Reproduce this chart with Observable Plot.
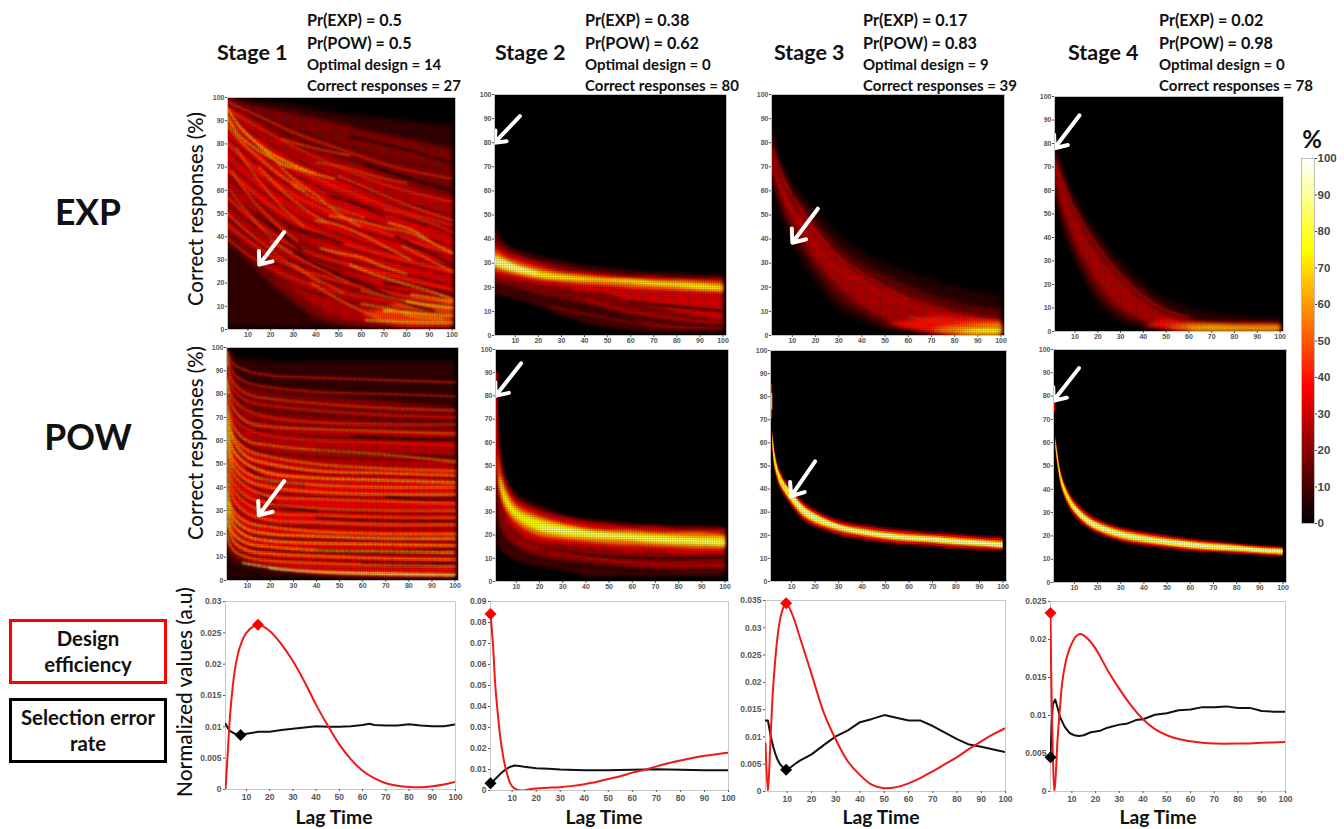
<!DOCTYPE html>
<html><head><meta charset="utf-8">
<script src="https://cdn.jsdelivr.net/npm/d3@7"></script>
<script src="https://cdn.jsdelivr.net/npm/@observablehq/plot@0.6"></script>
<style>
html,body{margin:0;padding:0;background:#fff;width:1344px;height:829px;overflow:hidden}
#page{position:relative;width:1344px;height:829px;font-family:Lato,sans-serif;color:#111}
#page>div{position:absolute}
.t{white-space:nowrap;font-weight:700}
.box{box-sizing:border-box;background:#fff}
</style></head><body><div id="page"></div>
<script>
// ---------- tick values ----------
const heatXTicks=[10,20,30,40,50,60,70,80,90,100];
const heatYTicks=[0,10,20,30,40,50,60,70,80,90,100];
const barTicks=heatYTicks;
const lineXTicks=heatXTicks;
const hotDomain=[0,37.5,75,100];
const hotRange=["#000000","#ff0000","#ffff00","#ffffff"];

// ---------- iso-level bands: [level, lower edge, upper edge] ----------
const lagsExp=[1,5,10,20,30,40,50,60,70,80,90,100];
const lagsPow=[1,2,3,5,10,20,30,40,50,60,70,80,90,100];
const lagsThin=[2,3,4,5,7,10,15,20,30,40,50,60,70,80,90,100];
const lagsS1Exp=[1,10,20,30,40,50,60,70,80,90,100];
const lagsS1Pow=[1,3,5,10,20,40,60,80,100];
const lagsFineExp=[1,15,30,50,75,100];
const lagsFinePow=[1,4,10,20,40,70,100];

const s1ExpBands=[
[8,[1,1,1,1,.8,.5,.5,.5,.5,.5,.5],[100,99,98,97,95,93,92,91,90,89,88]],
[20,[38,30,20,12,5,2,1,.8,.5,.5,.5],[100,97,95,93,91,89,86,84,82,80,78]],
[28,[42,35,26,17,10,5,3,2,1,1,1],[100,93,86,80,76,73,70,66,62,59,56]],
[34,[70,60,52,46,38,30,22,16,10,7,5],[98,88,80,74,70,66,60,54,48,44,40]],
[46,[null,null,null,null,null,null,7,3,1.5,1.5,1.5],[null,null,null,null,null,null,7,9,13,13,13]]
];
const s2ExpBands=[
[10,[17,16,15,12,8,5,3,2,1,1,1,1],[46,39,36,33,31,29,28,27,26,26,25,25]],
[20,[22,21,20,17,15,13,10,7,4,3,3,3],[42,37,34,31,29,27,26,25,25,24,24,24]],
[32,[25,24,23,21,20,18,17,14,12,10,8,6],[38,35,33,30,27,26,25,24,24,23,23,23]],
[52,[27,26,25,23,22,21,20.5,19.5,19,18.5,18,17.5],[36,33,31,28,26,25,24,23.5,23,23,22.5,22]],
[74,[29,27.5,26,24,23,22.5,22.2,21.5,20.5,20,19,18.5],[33.5,31.5,29,26.5,25,24,23.3,23,22.3,21.8,21.3,20.5]],
[90,[29,28,27,25,null,null,null,null,null,null,null,null],[32,31,29,26,null,null,null,null,null,null,null,null]]
];
const s3ExpBands=[
[6,[65,50,38,22,11,6,2,1,0,0,0,0],[90,73,64,52,42,35,30,26,23,20,18,16]],
[15,[68,54,43,27,15,9,4,2,1,0,0,0],[85,70,60,48,37,30,25,21,17,14,12,11]],
[26,[72,58,47,31,20,12,7,3,2,1,.5,.5],[78,66,55,43,32,25,20,16,13,10,8,7]],
[40,[null,null,null,null,null,null,5,3,1,.5,.5,.5],[null,null,null,null,null,null,5,6,8,8,7,6]],
[58,[null,null,null,null,null,null,null,null,2,.5,.5,.5],[null,null,null,null,null,null,null,null,2,4,5,5]],
[76,[null,null,null,null,null,null,null,null,null,1,.5,.5],[null,null,null,null,null,null,null,null,null,1,3,3.5]]
];
const s4ExpBands=[
[6,[60,43,30,12,4,1.5,1,1,1,1,1,1],[79,68,58,42,30,21,14,10,8,7,6,6]],
[16,[62,47,34,16,7,3,1,.5,.5,.5,.5,.5],[78,66,54,38,26,17,10,6,4,4,3.5,3.5]],
[26,[66,52,39,21,10,5,2,1,1,1,1,1],[76,62,50,33,22,13,7,4,3,3,3,3]],
[40,[null,null,null,null,null,2,1,.5,.5,.5,.5,.5],[null,null,null,null,null,2,5,3.5,3,3,3,3]],
[58,[null,null,null,null,null,null,1.5,.5,.5,.5,.5,.5],[null,null,null,null,null,null,1.5,3,3,2.5,2.5,2.5]],
[76,[null,null,null,null,null,null,null,.5,.5,.5,.5,.5],[null,null,null,null,null,null,null,1.2,1.7,1.6,1.5,1.5]]
];
const s1PowBands=[
[8,[1,1,1,1,1,1,1,1,1],[100,98,96,95,94,94,94,94,94]],
[20,[14,11,9,7,5,2.5,1.5,1,1],[99,92,88,84,82,80,78,76,74]],
[28,[18,14,12,9,6,3,2,1.5,1.5],[96,84,78,72,70,68,67,66,65]],
[35,[22,16,14,10,7,3.5,3,2.5,2.5],[88,70,62,56,52,49,48,48,48]]
];
const s2PowBands=[
[10,[30,20,14,12,9,6,5,2,2,2,2,2,2,2],[92,70,60,48,38,33,29,27,26,25,24,24,24,23]],
[22,[50,35,25,20,15,11,9,8,7,6,5,4,4,4],[86,66,56,45,36,31,28,26,25,24,24,23,23,23]],
[34,[62,48,38,30,22,17,16,15,14,13,13,12,12,12],[80,62,52,43,35,30,27,25,24,23,23,22,22,22]],
[55,[null,50,40,32,25,19.5,18,17,16,15.5,15,14.5,14,14],[null,56,48,41,33,28,25,23,22,22,21,21,21,20]],
[75,[null,null,42,34,27,21.5,19.5,18.5,18,17.5,16.5,16,15.5,15],[null,null,46,39,31,26.5,24,22,21,20.5,20,19.5,19,19]],
[92,[null,null,null,null,null,23,21,20,19,18.5,17.5,17,16.5,16],[null,null,null,null,null,24,22.5,21,20,19.5,18.5,18,17.5,17]]
];
const s3PowBands=[
[12,[56,47,43,40,36.5,32,26,23,19.5,17.5,16,15,14.5,13.5,13,12.5],[67,57,52,49,45,41,35,31.5,27,25,23.5,22.5,21.5,21,20,19.5]],
[35,[57,48,44,41,37.5,33,27,24,20.5,18.5,17,16,15.5,14.5,14,13.5],[66,56,51,48,44,40,34,30.5,26,24,22.5,21.5,20.5,20,19,18.5]],
[55,[58,49,45,42,38.5,34,28,25,21.5,19.5,18,17,16.5,15.5,14.8,14],[65,55,50,47,43,39,33,29.5,25,23,21.5,20.5,19.8,19,18.2,17.5]],
[78,[59,50,46,43,39,34.8,28.8,25.8,22.3,20.2,18.6,17.6,17,16,15.4,14.6],[64,54.5,49.5,46.5,42.5,38.5,32.5,29,24.5,22.3,20.8,19.8,19.2,18.3,17.5,16.8]],
[94,[null,null,null,null,null,36,30,26.8,23,20.8,19.2,18.2,17.6,16.8,16,15.2],[null,null,null,null,null,37.5,31.5,28,24,21.6,20.2,19.2,18.6,17.7,17,16.2]]
];
const s4PowBands=[
[12,[56,48,42,38,33,28,23.5,20.5,17,15.2,14,13,12.3,11.8,11.2,10.6],[64,56,50,46,41,36,31,27.5,24,22,20.5,19,18,17,16,15.5]],
[35,[57,49,43,39,34,29,24.3,21.3,17.8,16,14.8,13.7,13,12.4,11.8,11.1],[63,55,49,45,40,35,30,26.7,23.2,21.2,19.7,18.3,17.3,16.4,15.6,15]],
[55,[58,50,44,40,35,30,25,22,18.5,16.7,15.4,14.3,13.5,13,12.3,11.6],[62,54,48,44,39,34,29,26,22.5,20.5,19,17.7,16.7,16,15,14.5]],
[78,[58.5,50.5,44.5,40.5,35.5,30.6,25.6,22.6,19.2,17.3,16,14.8,14,13.5,12.8,12.2],[61.5,53.5,47.5,43.5,38.5,33.3,28.3,25.3,21.8,19.8,18.3,17.2,16.2,15.5,14.6,14]],
[94,[null,null,null,null,null,31.4,26.4,23.4,20,18.2,16.8,15.5,14.7,14,13.3,12.7],[null,null,null,null,null,32.6,27.6,24.6,21.2,19.2,17.8,16.7,15.7,15,14.2,13.6]]
];

// ---------- fine texture lines: [level, y at each lag of the matching lag list] ----------
const s1ExpFine=[
[13,99,93,87,80,73,68],[13,97,90,83,75,67,61],[13,93,83,74,65,56,49],[13,88,77,67,58,49,42],[13,83,71,61,52,43,36],
[13,78,65,55,46,38,31],[13,72,60,50,41,33,27],[13,66,54,44,36,29,23],[13,60,48,39,31,25,19],[13,54,43,34,27,21,16],
[13,48,37,29,23,17,13],[13,42,32,25,19,14,10],[13,36,26,19,13,9,6],
[46,98,92,85,78,70,65],[46,95,87,79,70,61,55],[46,90,80,70,61,52,45],[46,80,68,58,49,40,33],[46,69,57,47,38,31,25],
[46,57,45,36,29,23,17],[46,45,35,27,21,15,11],[44,39,29,22,16,12,8]
];
const s1PowFine=[
[11,96,87,83,81,79,78,77],[11,90,80,75,73,71,69,68],[11,86,75,70,68,66,65,65],[11,83,72,66,64,62,61,61],
[11,76,64,58,55,53,52,52],[11,70,58,51,48,46,45,44],[11,60,47,41,38,36,35,35],[11,52,41,34,31,30,29,28.5],
[11,44,32,27,24,23,22,22],[11,36,25,20,18.5,17.5,17,16.5],[11,28,18,14.5,13,12,11,10.5],[11,22,14,11,9.5,8.5,8,7.5]
];

// ---------- streaks: [level, x, y, x, y, ...] ----------
const s1ExpStreaks=[
[72,1,95,6,88,12,82,20,76,30,71,40,67],[70,1,92,5,85,12,79,20,74,28,70],[60,1,88,8,80,15,74,25,66,35,60],
[62,14,80,24,72,36,68,48,65],[58,22,73,30,65,40,58,50,50,60,44],[55,15,70,25,60,35,52,45,46],
[52,5,78,15,64,25,53,35,44],[50,3,68,12,56,22,46,32,38],[48,2,60,12,48,22,38,30,33],
[48,1,50,10,42,22,33,32,26,42,20],[60,40,47,50,45,60,41,70,36,82,30],[65,42,35,50,33,60,31,70,27,80,24],
[65,55,28,65,24,78,20,92,16,100,13],[60,46,49,58,47,70,44,80,42,90,38],[65,72,46,82,43,92,37,100,33],
[55,30,62,40,56,50,52,62,48],[50,50,66,60,62,72,57,85,52,100,47],[48,40,72,52,70,66,66,80,63],
[46,70,52,82,49,100,42],[55,78,36,90,30,100,25],[55,60,17,72,14,86,11,100,9],
[75,70,8,80,7.5,90,6.5,100,6],[72,80,12,90,10.5,100,9.5],[70,62,4,74,3.5,88,3,100,3],
[68,82,15,92,13.5,100,12],[62,60,11,72,9,84,5.5,96,4.5],[55,38,20,48,14,58,9,68,5],
[50,30,28,40,22,52,16],[48,20,38,30,32,42,26,55,20],[50,25,82,40,78,55,75]
];
const s1ExpDark=[
[6,62,71,75,67,88,63,100,60],[8,55,83,70,80,85,76,100,72],[10,75,40,88,34,100,28],[10,48,24,62,19,78,12,92,8],
[10,28,44,40,41,52,37],[10,45,58,58,54,70,49],[10,70,20,85,18,100,15],[10,14,50,24,42,34,34],[10,30,34,40,28,50,24]
];
const s1PowStreaks=[
[42,1,100,4,93,10,90,20,88,40,87,70,86,100,85],[42,1,97,4,89,10,85,20,83,40,81,70,80,100,79],
[48,1,94,4,85,10,80,20,78,40,76,70,74,100,73],[42,1,92,4,82,10,77,20,75,40,73,70,71,100,70],
[45,1,88,4,78,10,73,20,70,40,68,70,67,100,67],[55,1,85,4,74,10,68,20,66,40,65,70,64,100,63],
[42,1,81,4,70,10,65,20,62,40,60,70,59,100,58],[60,1,78,4,66,10,60,20,58,40,56,70,54,100,51],
[62,1,75,4,62,10,56,20,53,40,50,70,48,100,47],[68,1,72,4,60,10,53,20,50,40,47,70,46,100,45],
[72,1,68,4,56,10,50,20,46,40,44,70,43,100,42],[65,1,65,4,52,10,46,20,43,40,41,70,40,100,40],
[65,1,62,4,49,10,43,20,40,40,38,70,37,100,37],[58,1,58,4,46,10,40,20,36,40,35,70,34,100,33],
[55,1,54,4,42,10,36,20,33,40,31,70,30,100,30],[55,1,50,4,39,10,33,20,29,40,28,70,27,100,27],
[58,1,46,4,35,10,29,20,26,40,25,70,24,100,24],[66,1,42,4,30,10,25,20,23,40,21,70,20,100,20],
[72,1,38,4,27,10,22,20,20,40,19,70,18,100,18],[72,1,34,4,24,10,19,20,17,40,16,70,15.5,100,15],
[70,1,30,4,20,10,16,20,14.5,40,13,70,12.5,100,12],[66,1,26,4,17,10,13,20,11.5,40,10.5,70,9.5,100,9],
[60,1,20,4,13,10,10,20,8.5,40,7.5,70,6.5,100,6],[84,8,7.5,20,5.6,30,4.4,50,3.5,70,3.1,100,2.5],
[84,20,5.2,40,3.6,70,2.6,100,2.2],[62,1,98,2,92],[70,1,86,2,80]
];
const s1PowDark=[
[6,60,88,80,87,100,87],[6,55,81,75,79,100,78],[8,55,62,75,61,100,60.5],[8,40,56,60,54.5,100,53],
[10,70,36,85,35,100,35],[10,40,27,60,26,100,25.5],[10,15,37,25,32,40,30],[10,10,48,20,43,35,41],
[10,40,13,70,12.5,100,13.5],[12,60,7.5,80,6.5,100,7.5],[3,1,6,8,4,15,2.5]
];
const s3ExpStreaks=[[33,1,78,10,58,20,43,30,33,40,26,50,20,60,15],[32,1,70,10,52,20,37,30,27,40,22,50,17,60,12.5,70,9.5,85,7],[30,5,66,12,55,25,38,40,22,55,12],[44,60,8,70,5.8,85,4,100,3.5]];
const s4ExpStreaks=[[33,1,72,10,52,20,36,30,24,40,15,50,9,60,6]];
const s2ExpStreaks=[[30,40,15,60,10,80,7,100,5],[26,25,12,45,8,70,4,100,3]];
const s2ExpDark=[[8,60,14,80,12,100,10],[8,40,12,60,8,80,5,100,4]];
const s2PowStreaks=[[30,10,17,30,12,60,8,100,7]];
const s2PowDark=[[8,20,14,40,11.5,70,10,100,10.5],[6,30,7,60,5,100,5]];
const s2PowEdge=[[34,1,90,1,62]];
const s3PowEdge=[[35,1,85,1,71],[68,1,81,1,75]];
const s4PowEdge=[[34,1,82,1,74]];

// ---------- white arrows: [x tail, y tail, x tip, y tip] ----------
const arrowS1Exp=[26,42,15,28], arrowS2Exp=[12,91,1,80], arrowS3Exp=[21,52.6,10,38.5], arrowS4Exp=[12,92,1,78];
const arrowS1Pow=[26,42.7,15,28], arrowS2Pow=[12,94,1,80], arrowS3Pow=[20,52,9.8,37], arrowS4Pow=[12,92,1,78];

// ---------- efficiency curves ----------
const s1Lag=[1,2,3,5,7,10,15,20,25,30,35,40,45,50,55,60,65,70,75,80,85,90,95,100];
const s1Red=[0,.006,.012,.019,.0225,.025,.0263,.0253,.0232,.0205,.0172,.0135,.0102,.0072,.0048,.003,.0018,.001,.0006,.0004,.00035,.0005,.0008,.0012];
const s1BlackLag=[1,2,3,5,7,10,15,20,25,30,35,40,45,50,55,60,63,65,70,75,80,85,90,95,100];
const s1Black=[.0105,.0098,.0093,.0089,.0087,.0089,.0092,.0092,.0095,.0097,.0099,.0101,.01,.01,.0101,.0103,.0105,.0103,.0102,.0102,.0104,.0102,.0101,.0101,.0104];
const s2Lag=[1,2,3,4,5,6,7,8,9,10,12,14,16,20,25,30,35,40,45,50,55,60,65,70,75,80,85,90,95,100];
const s2Red=[.084,.07,.05,.037,.026,.018,.012,.0075,.004,.002,.0004,0,.0003,.001,.0013,.0016,.0022,.003,.004,.0055,.0068,.0085,.0098,.0115,.013,.0143,.0155,.0165,.0173,.018];
const s2BlackLag=[1,2,3,5,7,9,11,13,15,20,25,30,40,50,60,70,80,90,100];
const s2Black=[.0035,.0042,.0055,.0078,.0098,.0112,.0119,.0117,.0113,.0106,.0103,.01,.0097,.0097,.0099,.0101,.0099,.0097,.0097];
const s3Lag=[1,2,3,4,5,6,7,8,9.5,12,15,20,25,30,35,40,45,50,55,60,65,70,75,80,85,90,95,100];
const s3Red=[.0088,0,.009,.018,.024,.0285,.0315,.0333,.0345,.0325,.0285,.0215,.0145,.0095,.0055,.003,.0012,.0006,.0008,.0015,.0025,.0037,.005,.0063,.0078,.0092,.0105,.0116];
const s3BlackLag=[1,2,3,4,5,6,7,8,9.5,11,13,15,20,25,30,35,40,45,50,55,60,65,70,75,80,85,90,95,100];
const s3Black=[.013,.013,.0105,.0085,.007,.0058,.005,.0045,.004,.0043,.005,.0056,.0068,.0085,.0101,.0112,.0127,.0133,.014,.0135,.013,.013,.012,.0108,.0096,.0086,.0082,.0077,.0072];
const s4Lag=[1,1.5,2.7,4,5,6,8,10,12,14,17,20,25,30,35,40,45,50,55,60,65,70,80,90,100];
const s4Red=[.0235,.012,0,.007,.011,.0145,.0178,.0195,.0205,.0207,.02,.0188,.016,.0135,.0113,.0095,.0082,.0074,.0069,.0066,.0064,.0063,.0063,.0064,.0065];
const s4BlackLag=[1,1.5,2,3,4,5,7,9,11,13,15,18,22,25,30,33,37,40,45,50,55,60,65,70,75,80,85,90,95,100];
const s4Black=[.0045,.009,.0115,.0121,.011,.0098,.0085,.0077,.0074,.0073,.0074,.0078,.008,.0084,.0088,.0089,.0094,.0095,.0101,.0103,.0107,.0108,.0111,.0111,.0112,.011,.011,.0106,.0105,.0105];
const lineYTicks1=[0,.005,.01,.015,.02,.025,.03];
const lineYTicks2=[0,.01,.02,.03,.04,.05,.06,.07,.08,.09];
const lineYTicks3=[0,.005,.01,.015,.02,.025,.03,.035];
const lineYTicks4=[0,.005,.01,.015,.02,.025];

// ---------- text ----------
const stageNames=["Stage 1","Stage 2","Stage 3","Stage 4"];
const prExp=["Pr(EXP) = 0.5","Pr(EXP) = 0.38","Pr(EXP) = 0.17","Pr(EXP) = 0.02"];
const prPow=["Pr(POW) = 0.5","Pr(POW) = 0.62","Pr(POW) = 0.83","Pr(POW) = 0.98"];
const optimal=["Optimal design = 14","Optimal design = 0","Optimal design = 9","Optimal design = 0"];
const correct=["Correct responses = 27","Correct responses = 80","Correct responses = 39","Correct responses = 78"];

const page=document.getElementById("page");
const ML=30,MR=14,MT=6,MB=16;
function place(plot,b){const d=document.createElement("div");d.style.left=(b.l-ML)+"px";d.style.top=(b.t-MT)+"px";d.appendChild(plot);page.appendChild(d);return plot;}
function layout(b,fs){return {width:b.r-b.l+ML+MR,height:b.b-b.t+MT+MB,marginLeft:ML,marginRight:MR,marginTop:MT,marginBottom:MB,
  style:{background:"transparent",overflow:"visible",fontFamily:"'Liberation Sans',Arial,sans-serif",fontWeight:700,fontSize:fs+"px"}};}
function toRows(list){const rows=[];list.forEach((s,id)=>{for(let i=1;i<s.length;i+=2)rows.push({id,v:s[0],x:s[i],y:s[i+1]});});return rows;}
function columnRows(lags,list){const rows=[];list.forEach((s,id)=>lags.forEach((x,i)=>rows.push({id,v:s[0],x,y:s[i+1]})));return rows;}
const cellLines=d3.range(1,102); // cell boundaries of the 100-by-100 image

function heat(b,lags,bands,opt={}){
  const marks=[Plot.frame({fill:"#020000",stroke:null})];
  for(const [v,lo,hi] of bands){
    const rows=lags.map((x,i)=>({x,lo:lo[i],hi:hi[i],v})).filter(d=>d.lo!=null&&d.hi!=null);
    marks.push(Plot.areaY(rows,{x:"x",y1:"lo",y2:"hi",fill:"v",curve:"catmull-rom",clip:true}));
  }
  if(opt.fine)marks.push(Plot.line(columnRows(opt.fineLags,opt.fine),{x:"x",y:"y",z:"id",stroke:"v",strokeWidth:1.3,curve:"catmull-rom",clip:true}));
  if(opt.dark)marks.push(Plot.line(toRows(opt.dark),{x:"x",y:"y",z:"id",stroke:"v",strokeWidth:opt.dsw||2.2,curve:"catmull-rom",clip:true}));
  if(opt.streaks)marks.push(Plot.line(toRows(opt.streaks),{x:"x",y:"y",z:"id",stroke:"v",strokeWidth:opt.sw||1.6,strokeDasharray:opt.dash||null,curve:"catmull-rom",clip:true}));
  if(opt.edge)marks.push(Plot.line(toRows(opt.edge),{x:"x",y:"y",z:"id",stroke:"v",strokeWidth:3.5,clip:true}));
  marks.push(Plot.ruleX(cellLines,{stroke:"#000",strokeOpacity:.2,strokeWidth:.7,clip:true}));
  marks.push(Plot.ruleY(cellLines,{stroke:"#000",strokeOpacity:.2,strokeWidth:.7,clip:true}));
  const a=opt.arrow;
  marks.push(Plot.arrow([a],{x1:d=>d[0],y1:d=>d[1],x2:d=>d[2],y2:d=>d[3],stroke:"white",strokeWidth:4,headLength:15,headAngle:78}));
  marks.push(Plot.frame({stroke:"#c4c4c4",strokeWidth:1}));
  marks.push(Plot.axisX({ticks:heatXTicks,label:null,tickSize:2,tickPadding:1,color:"#555"}));
  marks.push(Plot.axisY({ticks:heatYTicks,label:null,tickSize:2,tickPadding:1,color:"#555"}));
  const svg=Plot.plot({...layout(b,7),x:{domain:[1,101.5]},y:{domain:[0,100]},
    color:{type:"linear",domain:hotDomain,range:hotRange},marks});
  svg.querySelectorAll('g[aria-label="area"]').forEach(g=>{g.style.filter=`blur(${opt.blur??1}px)`;});
  svg.querySelectorAll('g[aria-label="line"]').forEach(g=>{g.style.filter=`blur(${opt.lineBlur??.6}px)`;});
  place(svg,b);
}
function linePanel(b,yMax,yTicks,rl,rv,kl,kv,redPt,blackPt){
  const red=rl.map((x,i)=>({x,y:rv[i]})), black=kl.map((x,i)=>({x,y:kv[i]}));
  const svg=Plot.plot({...layout(b,8.5),x:{domain:[1,100]},y:{domain:[0,yMax]},marks:[
    Plot.frame({fill:"white",stroke:"#c8c8c8",strokeWidth:1}),
    Plot.line(black,{x:"x",y:"y",stroke:"#111",strokeWidth:2,clip:true}),
    Plot.line(red,{x:"x",y:"y",stroke:"#f01818",strokeWidth:2,curve:"catmull-rom",clip:true}),
    Plot.dot([blackPt],{x:d=>d[0],y:d=>d[1],symbol:"diamond2",r:5.4,fill:"#000"}),
    Plot.dot([redPt],{x:d=>d[0],y:d=>d[1],symbol:"diamond2",r:5.4,fill:"#f00"}),
    Plot.axisX({ticks:lineXTicks,label:null,tickSize:2,tickPadding:2,color:"#555"}),
    Plot.axisY({ticks:yTicks,tickFormat:d=>String(+d.toFixed(3)),label:null,tickSize:2,tickPadding:2,color:"#555"})
  ]});
  place(svg,b);
}

// heat maps
heat({l:227,r:455,t:97,b:329},lagsS1Exp,s1ExpBands,{fine:s1ExpFine,fineLags:lagsFineExp,streaks:s1ExpStreaks,dark:s1ExpDark,dash:"3 2",sw:1.7,lineBlur:.8,arrow:arrowS1Exp,blur:2});
heat({l:494,r:726,t:94,b:335},lagsExp,s2ExpBands,{streaks:s2ExpStreaks,dark:s2ExpDark,sw:1.6,lineBlur:1.2,arrow:arrowS2Exp,blur:1.8});
heat({l:771,r:1004,t:94,b:335},lagsExp,s3ExpBands,{streaks:s3ExpStreaks,sw:1.2,lineBlur:1,arrow:arrowS3Exp,blur:2.2});
heat({l:1054,r:1283,t:96,b:331},lagsExp,s4ExpBands,{streaks:s4ExpStreaks,sw:1.2,lineBlur:1,arrow:arrowS4Exp,blur:2.2});
heat({l:226,r:458,t:347,b:580},lagsS1Pow,s1PowBands,{fine:s1PowFine,fineLags:lagsFinePow,streaks:s1PowStreaks,dark:s1PowDark,dash:"3 2",sw:1.7,lineBlur:.8,arrow:arrowS1Pow,blur:2});
heat({l:495,r:728,t:349,b:581},lagsPow,s2PowBands,{streaks:s2PowStreaks,dark:s2PowDark,lineBlur:1.2,edge:s2PowEdge,arrow:arrowS2Pow,blur:1.5});
heat({l:770,r:1006,t:350,b:581},lagsThin,s3PowBands,{edge:s3PowEdge,arrow:arrowS3Pow,blur:.6});
heat({l:1053,r:1286,t:349,b:582},lagsThin,s4PowBands,{edge:s4PowEdge,arrow:arrowS4Pow,blur:.6});

// line panels
linePanel({l:225,r:455,t:601,b:789},.03,lineYTicks1,s1Lag,s1Red,s1BlackLag,s1Black,[15,.0263],[7.5,.0087]);
linePanel({l:490,r:728,t:601,b:790},.09,lineYTicks2,s2Lag,s2Red,s2BlackLag,s2Black,[1,.084],[1,.0035]);
linePanel({l:765,r:1005,t:600,b:791},.035,lineYTicks3,s3Lag,s3Red,s3BlackLag,s3Black,[9.5,.0345],[9.5,.004]);
linePanel({l:1050,r:1285,t:601,b:791},.025,lineYTicks4,s4Lag,s4Red,s4BlackLag,s4Black,[1,.0235],[1,.0045]);

// colour bar
const barLevels=d3.range(0,100);
(function(){
  const b={l:1301,r:1314,t:158,b:523};
  const svg=Plot.plot({...layout(b,11.5),x:{domain:[0,1],axis:null},y:{domain:[0,100]},
    color:{type:"linear",domain:hotDomain,range:hotRange},marks:[
    Plot.rect(barLevels,{x1:0,x2:1,y1:d=>d,y2:d=>d+1.2,fill:d=>d+.5,shapeRendering:"crispEdges"}),
    Plot.frame({stroke:"#bbb"}),
    Plot.axisY({anchor:"right",ticks:barTicks,label:null,tickSize:2,tickPadding:1,color:"#444"})
  ]});
  svg.style.overflow="visible";
  place(svg,b);
})();

// text
function text(str,x,y,size,opts={}){
  const d=document.createElement("div");d.className="t";d.textContent=str;
  d.style.left=x+"px";d.style.top=y+"px";d.style.fontSize=size+"px";d.style.lineHeight="1";
  d.style.fontWeight=opts.weight||700;
  d.style.transform=opts.tf||"translate(0,-50%)";
  if(opts.color)d.style.color=opts.color;
  page.appendChild(d);
}
const stageX=[217,495,774,1068], infoX=[307,585,863,1159];
stageNames.forEach((s,i)=>{
  text(s,stageX[i],53,21.5);
  text(prExp[i],infoX[i],20,16.2);
  text(prPow[i],infoX[i],43,16.2);
  text(optimal[i],infoX[i],64,15);
  text(correct[i],infoX[i],85,15);
});
const center="translate(-50%,-50%)", vertical="translate(-50%,-50%) rotate(-90deg)";
text("EXP",88,212,35.5,{tf:center});
text("POW",88,437,35.5,{tf:center});
text("Correct responses (%)",195,209,20.3,{tf:vertical,weight:500});
text("Correct responses (%)",195,443,20.3,{tf:vertical,weight:500});
text("Normalized values (a.u)",184,692,20.8,{tf:vertical,weight:500});
[334,604,881,1158].forEach(x=>text("Lag Time",x,817,19.3,{tf:center}));
text("%",1312,139,24,{tf:center});

// legend boxes
function legendBox(color,top,l1,l2){
  const d=document.createElement("div");d.className="box";
  Object.assign(d.style,{left:"9px",top:top+"px",width:"158px",height:"65px",border:`3.5px solid ${color}`});
  page.appendChild(d);
  text(l1,88,top+19,20.4,{tf:center});text(l2,88,top+45,20.4,{tf:center});
}
legendBox("#f00",619,"Design","efficiency");
legendBox("#000",698,"Selection error","rate");
</script></body></html>
